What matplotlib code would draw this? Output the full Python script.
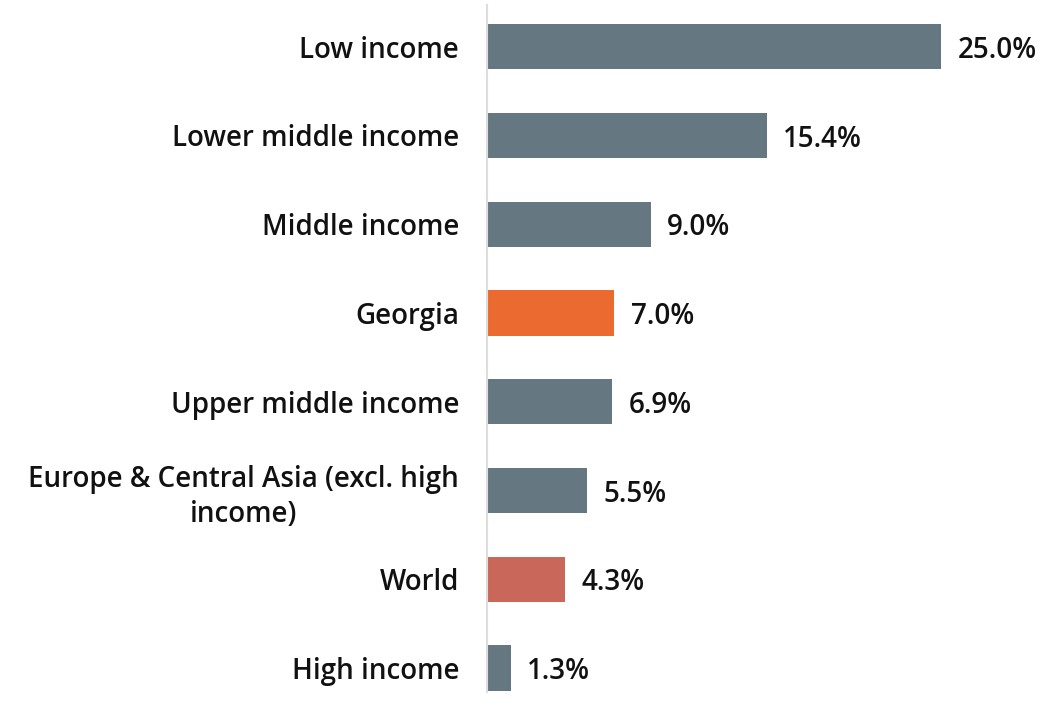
import numpy as np
import matplotlib.pyplot as plt

# data
categories = ["Low income", "Lower middle income", "Middle income", "Georgia",
              "Upper middle income", "Europe & Central Asia (excl. high\nincome)",
              "World", "High income"]
values = [25.0, 15.4, 9.0, 7.0, 6.9, 5.5, 4.3, 1.3]
labels = ["25.0%", "15.4%", "9.0%", "7.0%", "6.9%", "5.5%", "4.3%", "1.3%"]

gray = "#657882"
colors = [gray, gray, gray, "#EB6A30", gray, gray, "#C8675A", gray]

plt.rcParams['font.family'] = ['Open Sans', 'DejaVu Sans']

fig = plt.figure(figsize=(10.45, 7.07), dpi=100)
ax = fig.add_axes([487/1045, 15/707, 1 - 487/1045 - 13/1045, 687/707])

y = np.arange(len(categories))
ax.barh(y, values, height=0.51, color=colors)

for yi, v, t in zip(y, values, labels):
    ax.text(v + 0.9, yi + 0.04, t, va='center', ha='left', fontsize=20,
            fontweight='semibold', color='#111111')

ax.set_yticks(y)
ax.set_yticklabels(categories, fontsize=20, fontweight='semibold', color='#111111',
                   multialignment='center', linespacing=1.25)
ax.tick_params(axis='y', length=0, pad=20)
ax.set_xticks([])
ax.set_xlim(0, 30)
ax.set_ylim(7.27, -0.47)

for s in ['top', 'right', 'bottom']:
    ax.spines[s].set_visible(False)
ax.spines['left'].set_color('#dddddd')
ax.spines['left'].set_linewidth(1.5)

plt.savefig("out.png", dpi=100)
